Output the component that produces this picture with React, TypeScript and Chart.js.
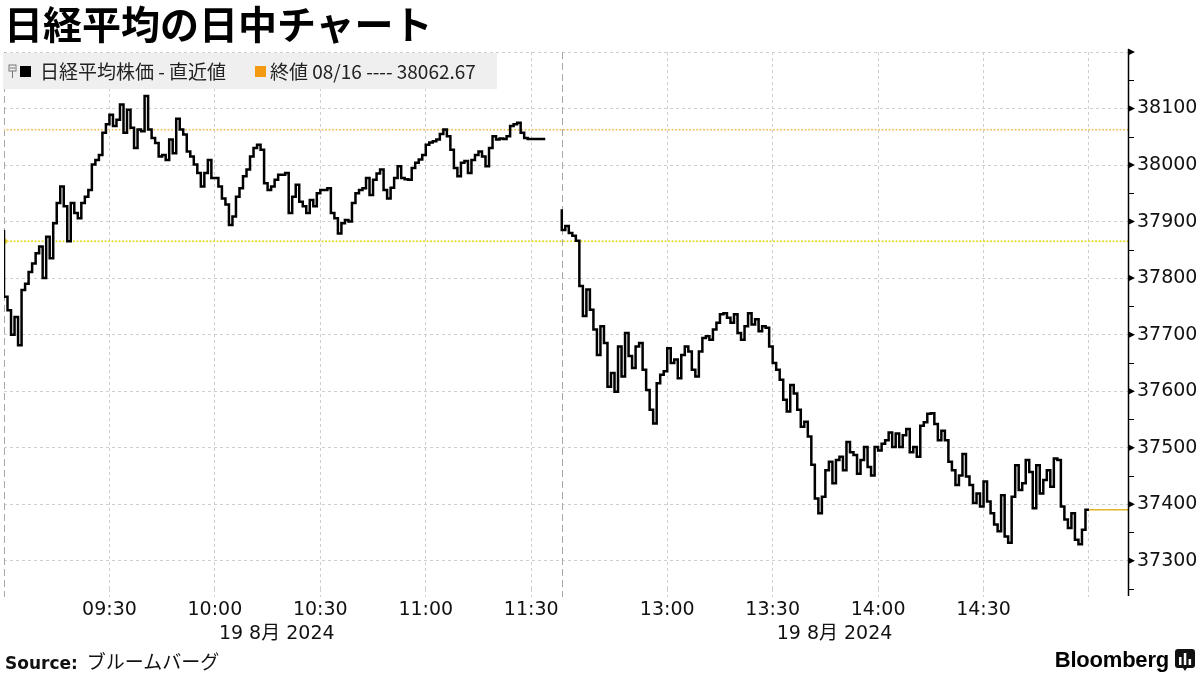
import React, { useEffect, useRef } from 'react';
import { Chart, registerables } from 'chart.js';

Chart.register(...registerables);

// ---- Data ----
// Morning session, one value per minute from 09:00 (index 0) to ~11:34
const morningValues: number[] = [
  37885, 37767, 37743, 37700, 37731, 37681, 37779, 37790, 37811, 37826,
  37844, 37856, 37800, 37873, 37835, 37897, 37933, 37962, 37927, 37865,
  37933, 37915, 37906, 37933, 37944, 37956, 38001, 38009, 38018, 38057,
  38072, 38089, 38069, 38080, 38107, 38057, 38098, 38066, 38030, 38063,
  38060, 38122, 38063, 38048, 38039, 38015, 38018, 38009, 38045, 38021,
  38082, 38063, 38054, 38024, 38015, 38001, 37986, 37962, 37986, 38009,
  37977, 37977, 37962, 37941, 37930, 37894, 37909, 37944, 37959, 37980,
  37992, 38015, 38030, 38036, 38027, 37968, 37956, 37962, 37974, 37983,
  37983, 37986, 37915, 37944, 37965, 37935, 37927, 37915, 37938, 37927,
  37950, 37956, 37956, 37959, 37915, 37906, 37879, 37897, 37903, 37900,
  37933, 37950, 37956, 37959, 37977, 37947, 37974, 37985, 37992, 37956,
  37941, 37960, 37977, 37998, 37977, 37975, 37974, 37995, 38004, 38010,
  38018, 38036, 38040, 38042, 38045, 38055, 38063, 38051, 38027, 37995,
  37980, 38004, 38007, 37986, 38009, 38018, 38024, 38015, 37998, 38030,
  38051, 38045, 38047, 38046, 38051, 38069, 38072, 38075, 38057, 38048,
  38046, 38046, 38046, 38046, 38046,
];

// Afternoon session, one value per minute from 12:30 (index 0) to 15:00
const afternoonValues: number[] = [
  37922, 37885, 37892, 37880, 37875, 37866, 37786, 37733, 37780, 37744,
  37709, 37664, 37715, 37685, 37608, 37632, 37599, 37679, 37626, 37703,
  37662, 37641, 37679, 37685, 37638, 37602, 37567, 37543, 37614, 37629,
  37635, 37676, 37650, 37656, 37623, 37664, 37679, 37670, 37638, 37626,
  37670, 37694, 37697, 37691, 37709, 37721, 37736, 37738, 37730, 37721,
  37736, 37703, 37691, 37715, 37738, 37718, 37727, 37706, 37715, 37712,
  37679, 37650, 37638, 37620, 37585, 37564, 37611, 37596, 37567, 37537,
  37546, 37520, 37470, 37410, 37384, 37413, 37460, 37475, 37437, 37478,
  37484, 37460, 37510, 37492, 37487, 37454, 37478, 37501, 37466, 37451,
  37501, 37495, 37507, 37513, 37527, 37501, 37525, 37501, 37522, 37533,
  37492, 37501, 37484, 37539, 37545, 37560, 37561, 37542, 37513, 37530,
  37513, 37475, 37460, 37434, 37451, 37489, 37449, 37434, 37402, 37419,
  37396, 37440, 37405, 37384, 37364, 37352, 37416, 37343, 37332, 37413,
  37469, 37425, 37437, 37478, 37457, 37393, 37469, 37419, 37443, 37460,
  37431, 37481, 37478, 37396, 37373, 37358, 37384, 37337, 37329, 37355,
  37390,
];

const prevCloseValue = 38062.67;
const openRefValue = 37865;

const tickTimes: string[] = [
  '09:00', '09:30', '10:00', '10:30', '11:00', '11:30',
  '12:30', '13:00', '13:30', '14:00', '14:30', '15:00',
];
const unlabeledTimes: string[] = ['09:00', '12:30', '15:00'];
const sessionStartTimes: string[] = ['09:00', '12:30'];
const dateLabel = '19 8月 2024';
const dateAnchorTimes: string[] = ['10:00', '13:30'];

const yMin = 37250;
const yMax = 38200;
const yStep = 50;

// compressed time axis: afternoon starts shortly after the morning close
const AFTERNOON_OFFSET = 158.7;
const X_MAX = 319.8;

function timePos(t: string): number {
  const [h, m] = t.split(':').map(Number);
  const mins = h * 60 + m;
  return mins < 12 * 60 + 30 ? mins - 9 * 60 : AFTERNOON_OFFSET + (mins - (12 * 60 + 30));
}

const sessionPositions = sessionStartTimes.map(timePos);
const isSession = (v: number) => sessionPositions.some((p) => Math.abs(p - v) < 0.01);

const TICK_FONT = '"DejaVu Sans", "Noto Sans CJK JP", sans-serif';
const GRID_COLOR = '#cfcfcf';
const SESSION_COLOR = '#a8a8a8';

const axisDecor = {
  id: 'axisDecor',
  beforeDatasetsDraw(chart: any) {
    const { ctx, chartArea: ca, scales } = chart;
    const x = scales.x;
    ctx.save();
    ctx.strokeStyle = SESSION_COLOR;
    ctx.lineWidth = 1;
    ctx.setLineDash([7, 4]);
    for (const p of sessionPositions) {
      const px = Math.round(x.getPixelForValue(p)) + 0.5;
      ctx.beginPath();
      ctx.moveTo(px, ca.top);
      ctx.lineTo(px, ca.bottom + 8);
      ctx.stroke();
    }
    ctx.restore();
  },
  afterDraw(chart: any) {
    const { ctx, chartArea: ca, scales } = chart;
    const y = scales.y;
    const x = scales.x;
    ctx.save();
    // y axis line
    ctx.strokeStyle = '#000';
    ctx.fillStyle = '#000';
    ctx.lineWidth = 1.5;
    ctx.beginPath();
    ctx.moveTo(ca.right + 0.5, ca.top - 3);
    ctx.lineTo(ca.right + 0.5, ca.bottom + 7);
    ctx.stroke();
    ctx.lineWidth = 1;
    for (const t of y.ticks) {
      const py = y.getPixelForValue(t.value);
      if (t.value % 100 === 0) {
        ctx.beginPath();
        ctx.moveTo(ca.right, py - 3.5);
        ctx.lineTo(ca.right + 7, py);
        ctx.lineTo(ca.right, py + 3.5);
        ctx.closePath();
        ctx.fill();
      } else {
        ctx.beginPath();
        ctx.moveTo(ca.right, Math.round(py) + 0.5);
        ctx.lineTo(ca.right + 6, Math.round(py) + 0.5);
        ctx.stroke();
      }
    }
    // date line under the time ticks
    ctx.font = '19px ' + TICK_FONT;
    ctx.textAlign = 'left';
    ctx.textBaseline = 'middle';
    ctx.fillStyle = '#111';
    for (const a of dateAnchorTimes) {
      const px = x.getPixelForValue(timePos(a));
      ctx.fillText(dateLabel, px + 4, ca.bottom + 45);
    }
    ctx.restore();
  },
};

export default function App() {
  const ref = useRef<HTMLCanvasElement>(null);

  useEffect(() => {
    const morningPts = morningValues.map((v, i) => ({ x: i, y: v }));
    const afternoonPts = afternoonValues.map((v, i) => ({ x: AFTERNOON_OFFSET + i, y: v }));
    const gap = { x: (morningValues.length + AFTERNOON_OFFSET) / 2, y: null as any };
    const lastVal = afternoonValues[afternoonValues.length - 1];
    const lastX = AFTERNOON_OFFSET + afternoonValues.length - 1;

    const chart = new Chart(ref.current as HTMLCanvasElement, {
      type: 'line',
      data: {
        datasets: [
          {
            label: '日経平均株価 - 直近値',
            data: [...morningPts, gap, ...afternoonPts],
            borderColor: '#000',
            borderWidth: 2.5,
            pointRadius: 0,
            stepped: 'after',
            spanGaps: false,
          },
          {
            label: 'last',
            data: [{ x: lastX, y: lastVal }, { x: X_MAX, y: lastVal }],
            borderColor: '#e2b524',
            borderWidth: 1.5,
            pointRadius: 0,
          },
          {
            label: '終値 08/16',
            data: [{ x: 0, y: prevCloseValue }, { x: X_MAX, y: prevCloseValue }],
            borderColor: '#f0c470',
            borderWidth: 2,
            borderDash: [0.1, 3.4],
            borderCapStyle: 'round',
            pointRadius: 0,
          },
          {
            label: 'ref',
            data: [{ x: 0, y: openRefValue }, { x: X_MAX, y: openRefValue }],
            borderColor: '#e4d820',
            borderWidth: 2,
            borderDash: [0.1, 3.4],
            borderCapStyle: 'round',
            pointRadius: [3, 0],
            pointBackgroundColor: '#e8d020',
            pointBorderWidth: 0,
          },
        ],
      },
      options: {
        responsive: false,
        animation: false,
        events: [],
        layout: { padding: { top: 52, bottom: 26, left: 0, right: 0 } },
        plugins: { legend: { display: false }, tooltip: { enabled: false }, title: { display: false } },
        scales: {
          x: {
            type: 'linear',
            min: 0,
            max: X_MAX,
            border: { display: false, dash: [3, 3] },
            afterBuildTicks: (s: any) => {
              s.ticks = tickTimes.map((t) => ({ value: timePos(t) }));
            },
            afterFit: (s: any) => {
              s.height = 60;
            },
            ticks: {
              autoSkip: false,
              maxRotation: 0,
              minRotation: 0,
              padding: 2,
              color: '#111',
              font: { family: TICK_FONT, size: 19 },
              callback: (_v: any, i: number) => {
                const t = tickTimes[i];
                return unlabeledTimes.includes(t) ? '' : t;
              },
            },
            grid: {
              drawTicks: true,
              tickLength: 8,
              lineWidth: 1,
              color: (c: any) => (c.tick && isSession(c.tick.value) ? 'rgba(0,0,0,0)' : GRID_COLOR),
              tickColor: (c: any) => (c.tick && isSession(c.tick.value) ? 'rgba(0,0,0,0)' : GRID_COLOR),
              tickBorderDash: [3, 3],
            },
          },
          y: {
            type: 'linear',
            position: 'right',
            min: yMin,
            max: yMax,
            border: { display: false, dash: [3, 3] },
            afterFit: (s: any) => {
              s.width = 72;
            },
            ticks: {
              stepSize: yStep,
              padding: 9,
              color: '#111',
              font: { family: TICK_FONT, size: 19 },
              callback: (v: any) => (v % 100 === 0 && v !== yMax ? String(v) : ''),
            },
            grid: {
              drawTicks: false,
              lineWidth: 1,
              color: (c: any) => (c.tick && c.tick.value % 100 === 0 ? GRID_COLOR : 'rgba(0,0,0,0)'),
            },
          },
        },
      },
      plugins: [axisDecor],
    } as any);
    return () => chart.destroy();
  }, []);

  const cjk = '"Noto Sans CJK JP", sans-serif';

  return (
    <div
      style={{
        position: 'absolute',
        left: 0,
        top: 0,
        width: 1200,
        height: 675,
        background: '#fff',
        overflow: 'hidden',
      }}
    >
      <canvas
        ref={ref}
        width={1200}
        height={675}
        style={{ position: 'absolute', left: 0, top: 0, width: 1200, height: 675 }}
      />
      <div
        style={{
          position: 'absolute',
          left: 4,
          top: 2,
          fontFamily: cjk,
          fontWeight: 700,
          fontSize: 39,
          lineHeight: '40px',
          color: '#000',
          whiteSpace: 'nowrap',
        }}
      >
        日経平均の日中チャート
      </div>
      <div
        style={{
          position: 'absolute',
          left: 3,
          top: 53,
          width: 494,
          height: 36,
          background: '#efefef',
          fontFamily: cjk,
          fontSize: 19,
          color: '#222',
          whiteSpace: 'nowrap',
        }}
      >
        <svg width={10} height={16} style={{ position: 'absolute', left: 5, top: 11 }}>
          <rect x={1} y={1} width={7} height={6} fill="none" stroke="#777" strokeWidth={1} />
          <line x1={4.5} y1={7} x2={4.5} y2={14} stroke="#777" strokeWidth={1} />
          <line x1={2} y1={4} x2={7} y2={4} stroke="#777" strokeWidth={1} />
        </svg>
        <span style={{ position: 'absolute', left: 17, top: 13, width: 11, height: 11, background: '#000' }} />
        <span style={{ position: 'absolute', left: 37, top: 0, lineHeight: '36px' }}>
          日経平均株価&nbsp;-&nbsp;直近値
        </span>
        <span style={{ position: 'absolute', left: 252, top: 13, width: 11, height: 11, background: '#f39a12' }} />
        <span style={{ position: 'absolute', left: 267, top: 0, lineHeight: '36px' }}>
          終値 08/16 ---- 38062.67
        </span>
      </div>
      <div
        style={{
          position: 'absolute',
          left: 5,
          top: 648,
          height: 26,
          lineHeight: '26px',
          whiteSpace: 'nowrap',
          color: '#111',
        }}
      >
        <span style={{ fontFamily: '"DejaVu Sans", sans-serif', fontWeight: 700, fontSize: 17 }}>Source:</span>
        <span style={{ fontFamily: cjk, fontSize: 19, marginLeft: 9 }}>ブルームバーグ</span>
      </div>
      <div
        style={{
          position: 'absolute',
          right: 31,
          top: 646,
          lineHeight: '28px',
          fontFamily: '"Liberation Sans", Arial, sans-serif',
          fontWeight: 700,
          fontSize: 22,
          color: '#000',
          letterSpacing: -0.2,
        }}
      >
        Bloomberg
      </div>
      <svg width={20} height={22} style={{ position: 'absolute', left: 1175, top: 649 }}>
        <path d="M3 0 H17 Q20 0 20 3 V16 Q20 19 17 19 H12 L10 22 L8 19 H3 Q0 19 0 16 V3 Q0 0 3 0 Z" fill="#111" />
        <rect x={4} y={8} width={2.5} height={8} fill="#fff" />
        <rect x={8.8} y={4} width={2.5} height={12} fill="#fff" />
        <rect x={13.6} y={10} width={2.5} height={6} fill="#fff" />
      </svg>
    </div>
  );
}
